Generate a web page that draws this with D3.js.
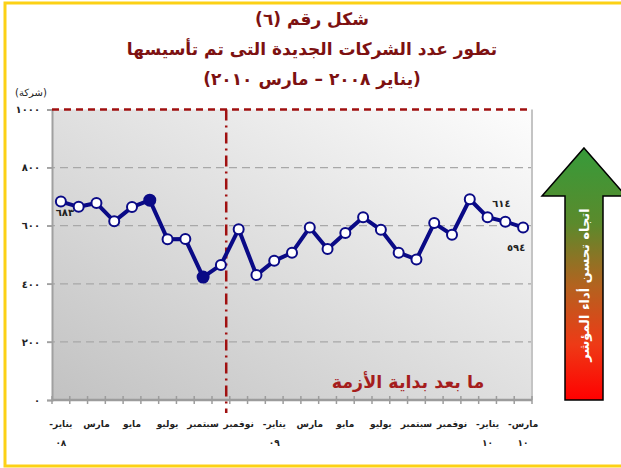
<!DOCTYPE html>
<html>
<head>
<meta charset="utf-8">
<script src="https://cdn.jsdelivr.net/npm/d3@7"></script>
<style>
  body { margin: 0; background: #fff; }
  text { font-family: "DejaVu Sans", sans-serif; }
</style>
</head>
<body>
<script>
// data: new companies per month, Jan 2008 - Mar 2010
var categories = ["يناير-٠٨","فبراير","مارس","أبريل","مايو","يونيو","يوليو","أغسطس","سبتمبر","أكتوبر","نوفمبر","ديسمبر",
                  "يناير-٠٩","فبراير","مارس","أبريل","مايو","يونيو","يوليو","أغسطس","سبتمبر","أكتوبر","نوفمبر","ديسمبر",
                  "يناير-١٠","فبراير","مارس-١٠"];
var companies = [683, 665, 678, 615, 664, 688, 553, 554, 423, 465, 588, 430,
                 479, 507, 594, 520, 575, 629, 586, 507, 484, 609, 569, 691,
                 629, 614, 594];
var yTicks = [0, 200, 400, 600, 800, 1000];
var filledPoints = [5, 8];          // dark markers
var labelledPoints = [0, 25, 26];   // points carrying a value label
var crisisIndex = 9.8;              // start of the crisis (between Oct and Nov 2008)

var titleLines = ["شكل رقم (٦)", "تطور عدد الشركات الجديدة التى تم تأسيسها", "(يناير ٢٠٠٨ – مارس ٢٠١٠)"];
var unitLabel = "(شركة)";
var crisisLabel = "ما بعد بداية الأزمة";
var arrowLabel = "اتجاه تحسن أداء المؤشر";

function toArabic(v){
    return String(v).replace(/\d/g, function(d){ return "٠١٢٣٤٥٦٧٨٩"[d]; });
}

var width = 621, height = 468;
var plotLeft = 52, plotRight = 532, plotTop = 109.5, plotBottom = 400;

var svg = d3.select("body").append("svg")
    .attr("width", width)
    .attr("height", height);

var defs = svg.append("defs");
var bg = defs.append("linearGradient").attr("id", "plotBg")
    .attr("x1", 0).attr("y1", 1).attr("x2", 1).attr("y2", 0);
bg.append("stop").attr("offset", "0%").attr("stop-color", "#c2c2c2");
bg.append("stop").attr("offset", "100%").attr("stop-color", "#fdfdfd");

var ag = defs.append("linearGradient").attr("id", "arrowBg")
    .attr("x1", 0).attr("y1", 0).attr("x2", 0).attr("y2", 1);
ag.append("stop").attr("offset", "0%").attr("stop-color", "#369b3a");
ag.append("stop").attr("offset", "30%").attr("stop-color", "#5b8a2c");
ag.append("stop").attr("offset", "55%").attr("stop-color", "#b4621f");
ag.append("stop").attr("offset", "78%").attr("stop-color", "#ee3a16");
ag.append("stop").attr("offset", "100%").attr("stop-color", "#ff0000");

//yellow frame
svg.append("rect")
    .attr("x", 5).attr("y", 3)
    .attr("width", 640).attr("height", 463)
    .attr("fill", "none")
    .attr("stroke", "#fcd116")
    .attr("stroke-width", 3);

//scales
var x = d3.scaleBand()
    .domain(d3.range(categories.length))
    .range([plotLeft, plotRight]);
var y = d3.scaleLinear()
    .domain([0, 1000])
    .range([plotBottom, plotTop]);

//plot background
svg.append("rect")
    .attr("x", plotLeft).attr("y", plotTop)
    .attr("width", plotRight - plotLeft).attr("height", plotBottom - plotTop)
    .attr("fill", "url(#plotBg)");

//gridlines
svg.append("g")
    .selectAll("line")
    .data(yTicks.filter(function(d){ return d > 0 && d < 1000; }))
    .enter()
    .append("line")
    .attr("x1", plotLeft - 5).attr("x2", plotRight)
    .attr("y1", function(d){ return y(d); })
    .attr("y2", function(d){ return y(d); })
    .attr("stroke", "#a8a8a8")
    .attr("stroke-width", 1.3)
    .attr("stroke-dasharray", "8,5");

//y axis
var yAxis = svg.append("g")
    .attr("transform", "translate(" + plotLeft + ",0)")
    .call(d3.axisLeft(y).tickValues(yTicks).tickFormat(toArabic).tickSize(5).tickPadding(7));
yAxis.select(".domain").attr("stroke", "#a0a0a0").attr("stroke-width", 2);
yAxis.selectAll(".tick line").attr("stroke", "#a0a0a0").attr("stroke-width", 1.5);
yAxis.selectAll(".tick text")
    .attr("font-size", 10)
    .attr("font-weight", "bold")
    .attr("letter-spacing", 1.5)
    .attr("fill", "#222");

//right border of plot
svg.append("line")
    .attr("x1", plotRight).attr("x2", plotRight)
    .attr("y1", plotTop).attr("y2", plotBottom)
    .attr("stroke", "#c4c4c4").attr("stroke-width", 2);

//top dashed red line (1000)
svg.append("line")
    .attr("x1", plotLeft).attr("x2", plotRight)
    .attr("y1", y(1000)).attr("y2", y(1000))
    .attr("stroke", "#a01010")
    .attr("stroke-width", 2.5)
    .attr("stroke-dasharray", "7,5");

//x axis line and ticks
svg.append("line")
    .attr("x1", plotLeft).attr("x2", plotRight)
    .attr("y1", plotBottom).attr("y2", plotBottom)
    .attr("stroke", "#9c9c9c").attr("stroke-width", 2.5);
svg.append("g")
    .selectAll("line")
    .data(d3.range(categories.length + 1))
    .enter()
    .append("line")
    .attr("x1", function(i){ return plotLeft + i * x.step(); })
    .attr("x2", function(i){ return plotLeft + i * x.step(); })
    .attr("y1", plotBottom - 4).attr("y2", plotBottom + 4)
    .attr("stroke", "#9c9c9c").attr("stroke-width", 1.5);

//x labels, every other month
var xLabels = svg.append("g")
    .selectAll("text")
    .data(d3.range(0, categories.length, 2))
    .enter()
    .append("text")
    .attr("text-anchor", "middle")
    .attr("direction", "rtl")
    .attr("font-size", 9)
    .attr("font-weight", "bold")
    .attr("fill", "#222");
xLabels.each(function(i){
    var parts = categories[i].split("-");
    var cx = x(i) + x.bandwidth() / 2;
    d3.select(this).append("tspan")
        .attr("x", cx).attr("y", 427)
        .text(parts.length > 1 ? parts[0] + "-" : parts[0]);
    if (parts.length > 1){
        d3.select(this).append("tspan")
            .attr("x", cx).attr("y", 446)
            .text(parts[1]);
    }
});

//crisis line
var cx0 = plotLeft + crisisIndex * x.step();
svg.append("line")
    .attr("x1", cx0).attr("x2", cx0)
    .attr("y1", plotTop).attr("y2", plotBottom + 13)
    .attr("stroke", "#a01010")
    .attr("stroke-width", 2.5)
    .attr("stroke-dasharray", "11,5,2,5");

svg.append("text")
    .attr("x", 408).attr("y", 388)
    .attr("text-anchor", "middle")
    .attr("direction", "rtl")
    .attr("font-size", 17.5)
    .attr("font-weight", "bold")
    .attr("fill", "#a51d1d")
    .text(crisisLabel);

//data line
var line = d3.line()
    .x(function(d, i){ return x(i) + x.bandwidth() / 2; })
    .y(function(d){ return y(d); });
svg.append("path")
    .datum(companies)
    .attr("d", line)
    .attr("fill", "none")
    .attr("stroke", "#0a0a86")
    .attr("stroke-width", 4)
    .attr("stroke-linejoin", "round");

svg.append("g")
    .selectAll("circle")
    .data(companies)
    .enter()
    .append("circle")
    .attr("cx", function(d, i){ return x(i) + x.bandwidth() / 2; })
    .attr("cy", function(d){ return y(d); })
    .attr("r", function(d, i){ return filledPoints.indexOf(i) >= 0 ? 5.5 : 5; })
    .attr("fill", function(d, i){ return filledPoints.indexOf(i) >= 0 ? "#0a0a86" : "#fff"; })
    .attr("stroke", "#0a0a86")
    .attr("stroke-width", 2);

//value labels
var labelOffsets = { 0: [4, 14], 25: [-4, -15], 26: [-7, 24] };
svg.append("g")
    .selectAll("text")
    .data(labelledPoints)
    .enter()
    .append("text")
    .attr("x", function(i){ return x(i) + x.bandwidth() / 2 + labelOffsets[i][0]; })
    .attr("y", function(i){ return y(companies[i]) + labelOffsets[i][1]; })
    .attr("text-anchor", "middle")
    .attr("font-size", 10)
    .attr("font-weight", "bold")
    .attr("fill", "#222")
    .text(function(i){ return toArabic(companies[i]); });

//titles
svg.append("g")
    .selectAll("text")
    .data(titleLines)
    .enter()
    .append("text")
    .attr("x", 312)
    .attr("y", function(d, i){ return 25 + i * 30; })
    .attr("text-anchor", "middle")
    .attr("direction", "rtl")
    .attr("font-size", 17)
    .attr("font-weight", "bold")
    .attr("fill", "#7d1111")
    .text(function(d){ return d; });

svg.append("text")
    .attr("x", 31).attr("y", 96)
    .attr("text-anchor", "middle")
    .attr("direction", "rtl")
    .attr("font-size", 10)
    .attr("fill", "#222")
    .text(unitLabel);

//improvement arrow
var arrowPts = [[584, 148], [626, 196], [603, 196], [603, 400], [565, 400], [565, 196], [542, 196]];
svg.append("polygon")
    .attr("points", arrowPts.map(function(p){ return p.join(","); }).join(" "))
    .attr("fill", "url(#arrowBg)")
    .attr("stroke", "#000")
    .attr("stroke-width", 1.5);

svg.append("text")
    .attr("transform", "translate(589,285) rotate(-90)")
    .attr("text-anchor", "middle")
    .attr("direction", "rtl")
    .attr("font-size", 13)
    .attr("font-weight", "bold")
    .attr("fill", "#fff")
    .text(arrowLabel);
</script>
</body>
</html>
